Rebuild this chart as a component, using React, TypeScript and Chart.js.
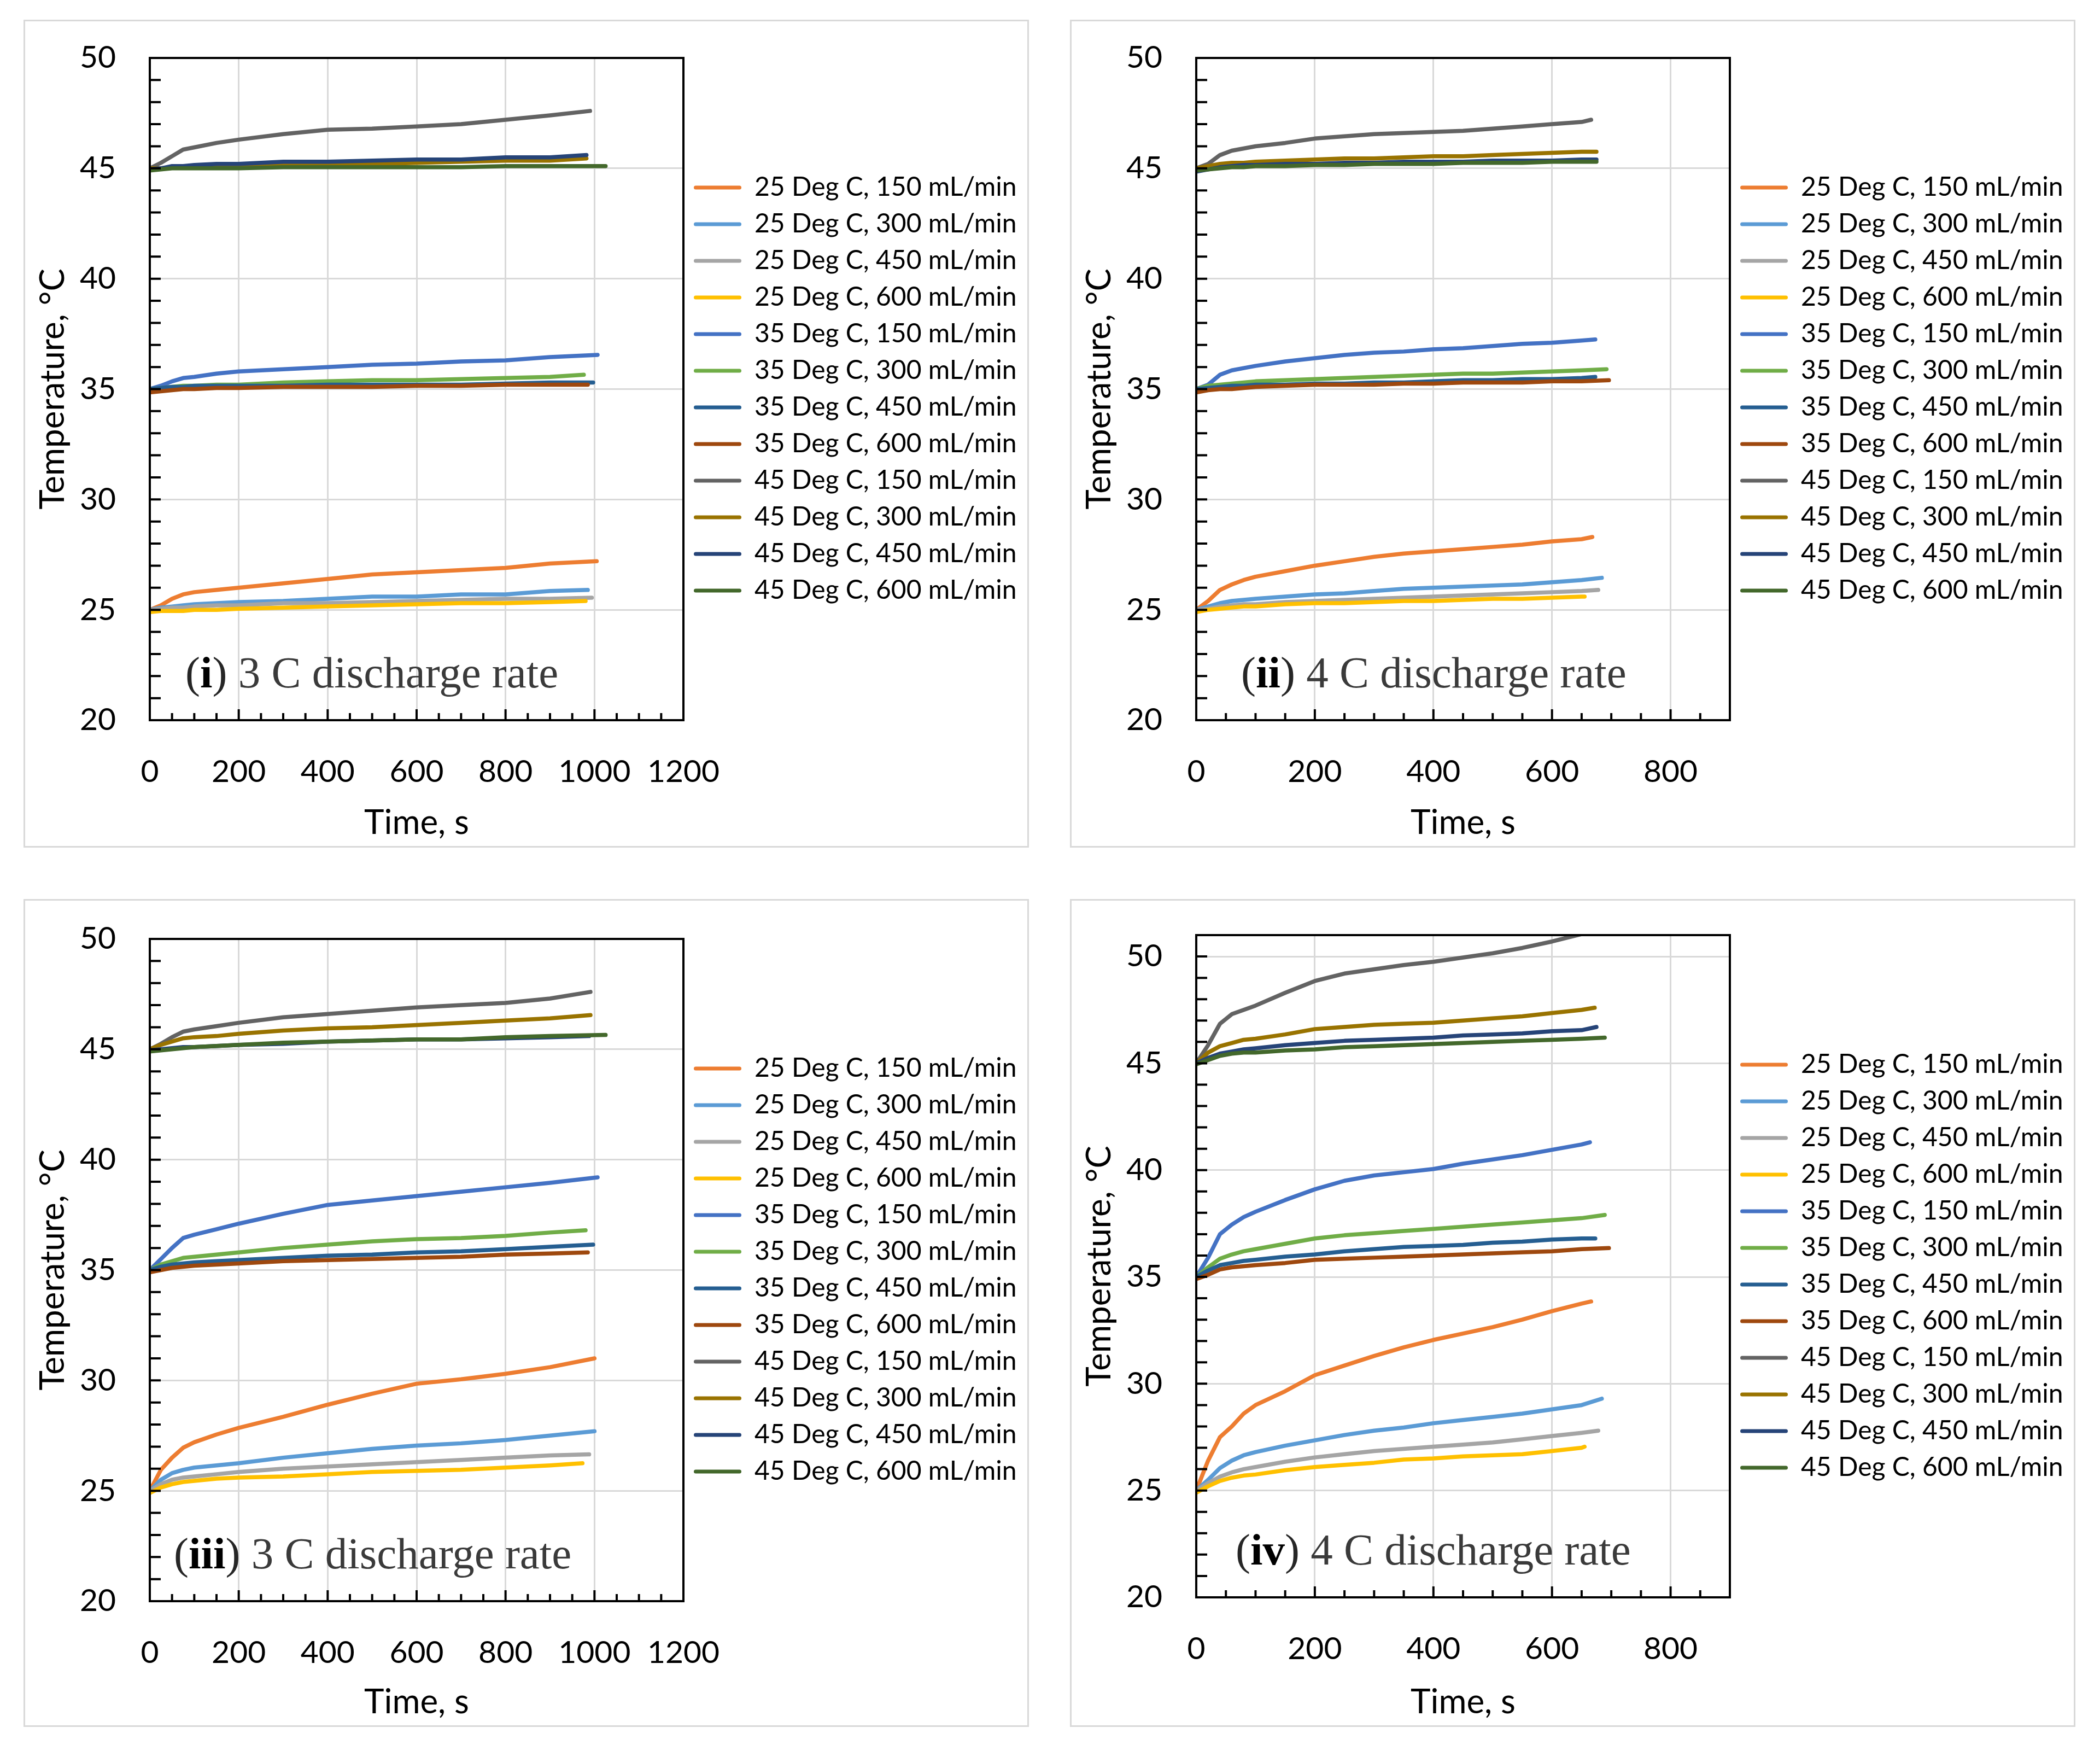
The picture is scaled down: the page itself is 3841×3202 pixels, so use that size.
import React, { useEffect, useRef } from 'react';
import { Chart, registerables } from 'chart.js';

Chart.register(...registerables);

// ---------- series meta ----------
const SERIES_LABELS = [
  '25 Deg C, 150 mL/min', '25 Deg C, 300 mL/min', '25 Deg C, 450 mL/min', '25 Deg C, 600 mL/min',
  '35 Deg C, 150 mL/min', '35 Deg C, 300 mL/min', '35 Deg C, 450 mL/min', '35 Deg C, 600 mL/min',
  '45 Deg C, 150 mL/min', '45 Deg C, 300 mL/min', '45 Deg C, 450 mL/min', '45 Deg C, 600 mL/min',
];
const SERIES_COLORS = [
  '#ED7D31', '#5B9BD5', '#A5A5A5', '#FFC000',
  '#4472C4', '#70AD47', '#255E91', '#9E480E',
  '#636363', '#997300', '#264478', '#43682B',
];

// ---------- tick labels ----------
const Y_TICKS = [20, 25, 30, 35, 40, 45, 50];
const X_TICKS_3C = [0, 200, 400, 600, 800, 1000, 1200];
const X_TICKS_4C = [0, 200, 400, 600, 800];
const Y_MINOR_STEP = 1;
const X_MINOR_STEP = 50;

// ---------- time grids (s) ----------
const T_3C = [0, 25, 50, 75, 100, 150, 200, 300, 400, 500, 600, 700, 800, 900];
const T_4C = [0, 20, 40, 60, 80, 100, 150, 200, 250, 300, 350, 400, 450, 500, 550, 600, 650];

// ---------- (i) 3 C ----------
const I_END = [1005, 985, 994, 980, 1007, 976, 997, 985, 990, 982, 982, 1025];
const I_25_150 = [25.0, 25.2, 25.5, 25.7, 25.8, 25.9, 26.0, 26.2, 26.4, 26.6, 26.7, 26.8, 26.9, 27.1, 27.2];
const I_25_300 = [25.0, 25.1, 25.15, 25.2, 25.25, 25.3, 25.35, 25.4, 25.5, 25.6, 25.6, 25.7, 25.7, 25.85, 25.9];
const I_25_450 = [25.0, 25.05, 25.1, 25.1, 25.15, 25.2, 25.2, 25.3, 25.3, 25.35, 25.4, 25.45, 25.5, 25.5, 25.55];
const I_25_600 = [24.9, 24.95, 24.95, 24.95, 25.0, 25.0, 25.05, 25.1, 25.15, 25.2, 25.25, 25.3, 25.3, 25.35, 25.4];
const I_35_150 = [35.0, 35.15, 35.35, 35.5, 35.55, 35.7, 35.8, 35.9, 36.0, 36.1, 36.15, 36.25, 36.3, 36.45, 36.55];
const I_35_300 = [35.0, 35.05, 35.1, 35.15, 35.15, 35.2, 35.2, 35.3, 35.35, 35.4, 35.4, 35.45, 35.5, 35.55, 35.65];
const I_35_450 = [35.0, 35.05, 35.1, 35.1, 35.15, 35.15, 35.15, 35.15, 35.2, 35.2, 35.2, 35.2, 35.25, 35.3, 35.3];
const I_35_600 = [34.85, 34.9, 34.95, 35.0, 35.0, 35.05, 35.05, 35.1, 35.1, 35.1, 35.15, 35.15, 35.2, 35.2, 35.2];
const I_45_150 = [45.0, 45.25, 45.55, 45.85, 45.95, 46.15, 46.3, 46.55, 46.75, 46.8, 46.9, 47.0, 47.2, 47.4, 47.6];
const I_45_300 = [45.0, 45.0, 45.05, 45.05, 45.05, 45.05, 45.1, 45.15, 45.2, 45.2, 45.25, 45.3, 45.35, 45.35, 45.45];
const I_45_450 = [44.95, 45.0, 45.1, 45.1, 45.15, 45.2, 45.2, 45.3, 45.3, 45.35, 45.4, 45.4, 45.5, 45.5, 45.6];
const I_45_600 = [44.9, 44.95, 45.0, 45.0, 45.0, 45.0, 45.0, 45.05, 45.05, 45.05, 45.05, 45.05, 45.1, 45.1, 45.1];

// ---------- (ii) 4 C ----------
const II_END = [668, 684, 678, 655, 673, 692, 673, 696, 666, 675, 675, 675];
const II_25_150 = [25.0, 25.4, 25.9, 26.15, 26.35, 26.5, 26.75, 27.0, 27.2, 27.4, 27.55, 27.65, 27.75, 27.85, 27.95, 28.1, 28.2, 28.3];
const II_25_300 = [25.0, 25.15, 25.3, 25.4, 25.45, 25.5, 25.6, 25.7, 25.75, 25.85, 25.95, 26.0, 26.05, 26.1, 26.15, 26.25, 26.35, 26.45];
const II_25_450 = [25.0, 25.05, 25.15, 25.2, 25.25, 25.25, 25.35, 25.4, 25.45, 25.5, 25.55, 25.6, 25.65, 25.7, 25.75, 25.8, 25.85, 25.9];
const II_25_600 = [24.9, 25.0, 25.05, 25.1, 25.15, 25.15, 25.25, 25.3, 25.3, 25.35, 25.4, 25.4, 25.45, 25.5, 25.5, 25.55, 25.6, 25.6];
const II_35_150 = [35.0, 35.2, 35.65, 35.85, 35.95, 36.05, 36.25, 36.4, 36.55, 36.65, 36.7, 36.8, 36.85, 36.95, 37.05, 37.1, 37.2, 37.25];
const II_35_300 = [35.0, 35.15, 35.2, 35.25, 35.3, 35.35, 35.4, 35.45, 35.5, 35.55, 35.6, 35.65, 35.7, 35.7, 35.75, 35.8, 35.85, 35.9];
const II_35_450 = [35.0, 35.05, 35.1, 35.15, 35.15, 35.2, 35.2, 35.25, 35.25, 35.3, 35.3, 35.35, 35.4, 35.4, 35.45, 35.45, 35.5, 35.55];
const II_35_600 = [34.85, 34.95, 35.0, 35.0, 35.05, 35.1, 35.15, 35.2, 35.2, 35.2, 35.25, 35.25, 35.3, 35.3, 35.3, 35.35, 35.35, 35.4];
const II_45_150 = [45.0, 45.2, 45.6, 45.8, 45.9, 46.0, 46.15, 46.35, 46.45, 46.55, 46.6, 46.65, 46.7, 46.8, 46.9, 47.0, 47.1, 47.2];
const II_45_300 = [45.0, 45.1, 45.2, 45.25, 45.25, 45.3, 45.35, 45.4, 45.45, 45.45, 45.5, 45.55, 45.55, 45.6, 45.65, 45.7, 45.75, 45.75];
const II_45_450 = [44.85, 44.95, 45.05, 45.1, 45.15, 45.15, 45.2, 45.2, 45.25, 45.25, 45.3, 45.3, 45.3, 45.35, 45.35, 45.35, 45.4, 45.4];
const II_45_600 = [44.9, 44.95, 45.0, 45.05, 45.05, 45.1, 45.1, 45.15, 45.15, 45.2, 45.2, 45.2, 45.25, 45.25, 45.25, 45.3, 45.3, 45.3];

// ---------- (iii) 3 C ----------
const III_END = [1000, 1000, 988, 973, 1007, 980, 997, 985, 991, 991, 988, 1025];
const III_25_150 = [25.0, 25.95, 26.5, 26.95, 27.2, 27.55, 27.85, 28.35, 28.9, 29.4, 29.85, 30.05, 30.3, 30.6, 31.0];
const III_25_300 = [25.0, 25.5, 25.8, 25.95, 26.05, 26.15, 26.25, 26.5, 26.7, 26.9, 27.05, 27.15, 27.3, 27.5, 27.7];
const III_25_450 = [25.0, 25.3, 25.5, 25.6, 25.65, 25.75, 25.85, 26.0, 26.1, 26.2, 26.3, 26.4, 26.5, 26.6, 26.65];
const III_25_600 = [24.9, 25.15, 25.3, 25.4, 25.45, 25.55, 25.6, 25.65, 25.75, 25.85, 25.9, 25.95, 26.05, 26.15, 26.25];
const III_35_150 = [35.0, 35.5, 36.0, 36.45, 36.6, 36.85, 37.1, 37.55, 37.95, 38.15, 38.35, 38.55, 38.75, 38.95, 39.2];
const III_35_300 = [35.0, 35.25, 35.4, 35.55, 35.6, 35.7, 35.8, 36.0, 36.15, 36.3, 36.4, 36.45, 36.55, 36.7, 36.8];
const III_35_450 = [35.0, 35.15, 35.25, 35.3, 35.35, 35.4, 35.45, 35.55, 35.65, 35.7, 35.8, 35.85, 35.95, 36.05, 36.15];
const III_35_600 = [34.9, 35.0, 35.1, 35.15, 35.2, 35.25, 35.3, 35.4, 35.45, 35.5, 35.55, 35.6, 35.7, 35.75, 35.8];
const III_45_150 = [45.0, 45.25, 45.55, 45.8, 45.9, 46.05, 46.2, 46.45, 46.6, 46.75, 46.9, 47.0, 47.1, 47.3, 47.6];
const III_45_300 = [45.0, 45.2, 45.35, 45.5, 45.55, 45.6, 45.7, 45.85, 45.95, 46.0, 46.1, 46.2, 46.3, 46.4, 46.55];
const III_45_450 = [44.95, 45.0, 45.05, 45.1, 45.1, 45.15, 45.2, 45.25, 45.35, 45.4, 45.45, 45.45, 45.5, 45.55, 45.6];
const III_45_600 = [44.9, 44.95, 45.0, 45.05, 45.1, 45.15, 45.2, 45.3, 45.35, 45.4, 45.45, 45.45, 45.55, 45.6, 45.65];

// ---------- (iv) 4 C ----------
const IV_END = [666, 684, 678, 655, 664, 689, 673, 696, 680, 672, 675, 689];
const IV_25_150 = [25.0, 26.4, 27.5, 28.0, 28.6, 29.0, 29.65, 30.4, 30.85, 31.3, 31.7, 32.05, 32.35, 32.65, 33.0, 33.4, 33.75, 33.85];
const IV_25_300 = [25.0, 25.5, 26.05, 26.4, 26.65, 26.8, 27.1, 27.35, 27.6, 27.8, 27.95, 28.15, 28.3, 28.45, 28.6, 28.8, 29.0, 29.3];
const IV_25_450 = [25.0, 25.35, 25.65, 25.85, 26.0, 26.1, 26.35, 26.55, 26.7, 26.85, 26.95, 27.05, 27.15, 27.25, 27.4, 27.55, 27.7, 27.8];
const IV_25_600 = [24.9, 25.2, 25.45, 25.6, 25.7, 25.75, 25.95, 26.1, 26.2, 26.3, 26.45, 26.5, 26.6, 26.65, 26.7, 26.85, 27.0, 27.05];
const IV_35_150 = [35.0, 35.9, 37.0, 37.45, 37.8, 38.05, 38.6, 39.1, 39.5, 39.75, 39.9, 40.05, 40.3, 40.5, 40.7, 40.95, 41.2, 41.3];
const IV_35_300 = [35.0, 35.45, 35.85, 36.05, 36.2, 36.3, 36.55, 36.8, 36.95, 37.05, 37.15, 37.25, 37.35, 37.45, 37.55, 37.65, 37.75, 37.9];
const IV_35_450 = [35.0, 35.3, 35.55, 35.65, 35.75, 35.8, 35.95, 36.05, 36.2, 36.3, 36.4, 36.45, 36.5, 36.6, 36.65, 36.75, 36.8, 36.8];
const IV_35_600 = [34.9, 35.1, 35.35, 35.45, 35.5, 35.55, 35.65, 35.8, 35.85, 35.9, 35.95, 36.0, 36.05, 36.1, 36.15, 36.2, 36.3, 36.35];
const IV_45_150 = [45.0, 45.85, 46.85, 47.3, 47.5, 47.7, 48.3, 48.85, 49.2, 49.4, 49.6, 49.75, 49.95, 50.15, 50.4, 50.7, 51.05, 51.3];
const IV_45_300 = [45.0, 45.5, 45.8, 45.95, 46.1, 46.15, 46.35, 46.6, 46.7, 46.8, 46.85, 46.9, 47.0, 47.1, 47.2, 47.35, 47.5, 47.6];
const IV_45_450 = [45.0, 45.25, 45.45, 45.55, 45.65, 45.7, 45.85, 45.95, 46.05, 46.1, 46.15, 46.2, 46.3, 46.35, 46.4, 46.5, 46.55, 46.7];
const IV_45_600 = [44.95, 45.15, 45.35, 45.45, 45.5, 45.5, 45.6, 45.65, 45.75, 45.8, 45.85, 45.9, 45.95, 46.0, 46.05, 46.1, 46.15, 46.2];

const PANELS = [
  { roman: 'i', rest: ' 3 C discharge rate', xMax: 1200, yMax: 50, xTicks: X_TICKS_3C, times: T_3C, ends: I_END,
    series: [I_25_150, I_25_300, I_25_450, I_25_600, I_35_150, I_35_300, I_35_450, I_35_600, I_45_150, I_45_300, I_45_450, I_45_600],
    noteOffset: 65, left: 43, top: 36, areaTop: 67 },
  { roman: 'ii', rest: ' 4 C discharge rate', xMax: 900, yMax: 50, xTicks: X_TICKS_4C, times: T_4C, ends: II_END,
    series: [II_25_150, II_25_300, II_25_450, II_25_600, II_35_150, II_35_300, II_35_450, II_35_600, II_45_150, II_45_300, II_45_450, II_45_600],
    noteOffset: 82, left: 1957, top: 36, areaTop: 67 },
  { roman: 'iii', rest: ' 3 C discharge rate', xMax: 1200, yMax: 50, xTicks: X_TICKS_3C, times: T_3C, ends: III_END,
    series: [III_25_150, III_25_300, III_25_450, III_25_600, III_35_150, III_35_300, III_35_450, III_35_600, III_45_150, III_45_300, III_45_450, III_45_600],
    noteOffset: 44, left: 43, top: 1644, areaTop: 70 },
  { roman: 'iv', rest: ' 4 C discharge rate', xMax: 900, yMax: 51, xTicks: X_TICKS_4C, times: T_4C, ends: IV_END,
    series: [IV_25_150, IV_25_300, IV_25_450, IV_25_600, IV_35_150, IV_35_300, IV_35_450, IV_35_600, IV_45_150, IV_45_300, IV_45_450, IV_45_600],
    noteOffset: 72, left: 1957, top: 1644, areaTop: 63 },
];

// ---------- layout constants ----------
const FRAME_W = 1839;
const FRAME_H = 1514;
const FRAME_BORDER = 3;
const CANVAS_W = FRAME_W - 2 * FRAME_BORDER;
const CANVAS_H = FRAME_H - 2 * FRAME_BORDER;
const AREA_LEFT = 228;
const AREA_W = 976;
const AREA_H = 1211;
const Y_AXIS_W = AREA_LEFT;

const SANS = 'Lato';
const SERIF = '"Liberation Serif", "Times New Roman", serif';
const TICK_SIZE = 57;
const TITLE_SIZE = 62;
const LEGEND_SIZE = 48;
const LEGEND_PAD = 19;
const LEGEND_BOX_W = 87;
const NOTE_SIZE = 81;

const framePlugin = {
  id: 'frameAndTicks',
  afterDatasetsDraw(chart: any) {
    const { ctx, chartArea: a, scales } = chart;
    const xs = scales.x;
    const ys = scales.y;
    ctx.save();
    ctx.strokeStyle = '#000';
    ctx.lineWidth = 4;
    ctx.lineCap = 'butt';
    ctx.beginPath();
    const ny = Math.round((ys.max - ys.min) / Y_MINOR_STEP);
    for (let k = 1; k < ny; k++) {
      const py = ys.getPixelForValue(ys.min + k * Y_MINOR_STEP);
      ctx.moveTo(a.left, py);
      ctx.lineTo(a.left + 20, py);
    }
    const nx = Math.round((xs.max - xs.min) / X_MINOR_STEP);
    for (let k = 1; k < nx; k++) {
      const v = xs.min + k * X_MINOR_STEP;
      const px = xs.getPixelForValue(v);
      const len = v % 200 === 0 ? 20 : 13;
      ctx.moveTo(px, a.bottom);
      ctx.lineTo(px, a.bottom - len);
    }
    ctx.stroke();
    ctx.strokeRect(a.left, a.top, a.right - a.left, a.bottom - a.top);
    ctx.restore();
  },
  afterDraw(chart: any, _args: any, opts: any) {
    const { ctx, chartArea: a } = chart;
    ctx.save();
    ctx.textAlign = 'left';
    ctx.textBaseline = 'alphabetic';
    let cx = a.left + opts.offset;
    const by = a.bottom - 60;
    const normal = `${NOTE_SIZE}px ${SERIF}`;
    const bold = `bold ${NOTE_SIZE}px ${SERIF}`;
    ctx.font = normal;
    ctx.fillStyle = '#262626';
    ctx.fillText('(', cx, by);
    cx += ctx.measureText('(').width;
    ctx.font = bold;
    ctx.fillStyle = '#000';
    ctx.fillText(opts.roman, cx, by);
    cx += ctx.measureText(opts.roman).width;
    ctx.font = normal;
    ctx.fillStyle = '#262626';
    ctx.fillText(')', cx, by);
    cx += ctx.measureText(')').width;
    ctx.fillStyle = '#3a3a3a';
    ctx.fillText(opts.rest, cx, by);
    ctx.restore();
  },
};

function PanelChart({ cfg }: { cfg: any }) {
  const ref = useRef<HTMLCanvasElement>(null);
  useEffect(() => {
    const canvas = ref.current!;
    const mctx = document.createElement('canvas').getContext('2d')!;
    mctx.font = `${LEGEND_SIZE}px ${SANS}`;
    const textW = Math.max(...SERIES_LABELS.map((l) => mctx.measureText(l).width));
    const legendW = LEGEND_PAD + LEGEND_BOX_W + LEGEND_SIZE / 2 + textW + 10;
    const padRight = Math.max(0, CANVAS_W - (AREA_LEFT + AREA_W) - legendW);
    const xAxisH = CANVAS_H - cfg.areaTop - AREA_H;

    const datasets = cfg.series.map((vals: number[], i: number) => {
      const xs = [...cfg.times, cfg.ends[i]];
      return {
        label: SERIES_LABELS[i],
        data: vals.map((v, j) => ({ x: xs[j], y: v })),
        borderColor: SERIES_COLORS[i],
        backgroundColor: SERIES_COLORS[i],
        borderWidth: 7.5,
        pointRadius: 0,
        pointHoverRadius: 0,
        tension: 0,
        borderCapStyle: 'round',
        borderJoinStyle: 'round',
        order: -i,
      };
    });

    const chart = new Chart(canvas, {
      type: 'line',
      data: { datasets },
      plugins: [framePlugin],
      options: {
        animation: false,
        responsive: false,
        devicePixelRatio: 1,
        layout: { padding: { top: cfg.areaTop, left: 0, right: padRight, bottom: 0 } },
        scales: {
          x: {
            type: 'linear',
            min: 0,
            max: cfg.xMax,
            border: { display: false },
            grid: { color: '#D9D9D9', lineWidth: 3, drawTicks: false },
            ticks: {
              padding: 60,
              maxRotation: 0,
              autoSkip: false,
              color: '#000',
              font: { family: SANS, size: TICK_SIZE },
              callback: (v: any) => String(v),
            },
            title: {
              display: true,
              text: 'Time, s',
              color: '#000',
              font: { family: SANS, size: TITLE_SIZE },
              padding: { top: 0, bottom: 5 },
            },
            afterBuildTicks: (s: any) => {
              s.ticks = cfg.xTicks.map((v: number) => ({ value: v }));
            },
            afterFit: (s: any) => {
              s.height = xAxisH;
            },
          },
          y: {
            type: 'linear',
            min: Y_TICKS[0],
            max: cfg.yMax,
            border: { display: false },
            grid: { color: '#D9D9D9', lineWidth: 3, drawTicks: false },
            ticks: {
              padding: 62,
              color: '#000',
              font: { family: SANS, size: TICK_SIZE },
              callback: (v: any) => String(v),
            },
            title: {
              display: true,
              text: 'Temperature, °C',
              color: '#000',
              font: { family: SANS, size: TITLE_SIZE },
              padding: { top: 14, bottom: 0 },
            },
            afterBuildTicks: (s: any) => {
              s.ticks = Y_TICKS.map((v) => ({ value: v }));
            },
            afterFit: (s: any) => {
              s.width = Y_AXIS_W;
              s.paddingTop = 0;
              s.paddingBottom = 0;
            },
          },
        },
        plugins: {
          legend: {
            display: true,
            position: 'right',
            fullSize: false,
            maxWidth: 3000,
            labels: {
              color: '#000',
              font: { family: SANS, size: LEGEND_SIZE },
              boxWidth: LEGEND_BOX_W,
              boxHeight: 7,
              padding: LEGEND_PAD,
              useBorderRadius: true,
              borderRadius: 3.5,
              generateLabels: (ch: any) =>
                ch.data.datasets.map((d: any, i: number) => ({
                  text: d.label,
                  fillStyle: d.borderColor,
                  strokeStyle: d.borderColor,
                  fontColor: '#000',
                  lineWidth: 0,
                  hidden: false,
                  datasetIndex: i,
                  borderRadius: 3.5,
                })),
            },
          },
          tooltip: { enabled: false },
          frameAndTicks: { offset: cfg.noteOffset, roman: cfg.roman, rest: cfg.rest },
        } as any,
      } as any,
    });
    return () => chart.destroy();
  }, [cfg]);

  return (
    <div
      style={{
        position: 'absolute',
        left: cfg.left,
        top: cfg.top,
        width: FRAME_W,
        height: FRAME_H,
        boxSizing: 'border-box',
        border: `${FRAME_BORDER}px solid #D9D9D9`,
        background: '#fff',
      }}
    >
      <canvas ref={ref} width={CANVAS_W} height={CANVAS_H} style={{ display: 'block', width: CANVAS_W, height: CANVAS_H }} />
    </div>
  );
}

export default function App() {
  return (
    <div style={{ position: 'absolute', left: 0, top: 0, width: 3841, height: 3202, background: '#fff', overflow: 'hidden' }}>
      {PANELS.map((p, i) => (
        <PanelChart key={i} cfg={p} />
      ))}
    </div>
  );
}
